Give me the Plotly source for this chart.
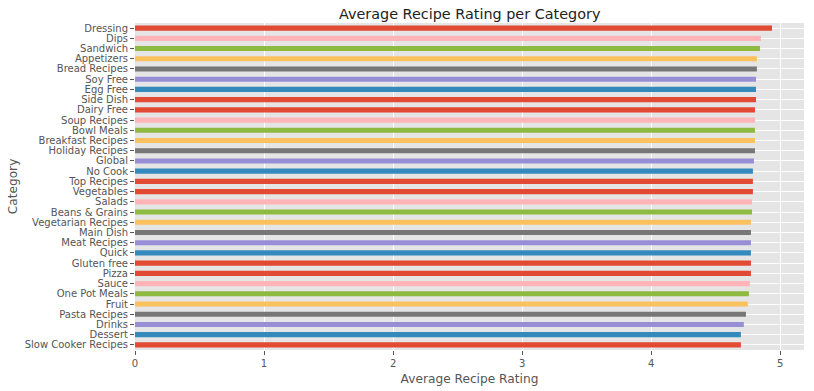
import plotly.graph_objects as go

categories = ["Dressing", "Dips", "Sandwich", "Appetizers", "Bread Recipes", "Soy Free",
              "Egg Free", "Side Dish", "Dairy Free", "Soup Recipes", "Bowl Meals",
              "Breakfast Recipes", "Holiday Recipes", "Global", "No Cook", "Top Recipes",
              "Vegetables", "Salads", "Beans & Grains", "Vegetarian Recipes", "Main Dish",
              "Meat Recipes", "Quick", "Gluten free", "Pizza", "Sauce", "One Pot Meals",
              "Fruit", "Pasta Recipes", "Drinks", "Dessert", "Slow Cooker Recipes"]
ratings = [4.936, 4.850, 4.843, 4.819, 4.819, 4.812,
           4.812, 4.812, 4.804, 4.804, 4.804,
           4.804, 4.804, 4.796, 4.788, 4.788,
           4.788, 4.781, 4.781, 4.773, 4.773,
           4.773, 4.773, 4.773, 4.773, 4.765, 4.757,
           4.749, 4.734, 4.718, 4.695, 4.695]
x_ticks = [0, 1, 2, 3, 4, 5]

# ggplot-style colour cycle, applied from the bottom bar upward
cycle = ["#E24A33", "#348ABD", "#988ED5", "#777777", "#FBC15E", "#8EBA42", "#FFB5B8", "#E24A33"]
n = len(categories)
colors = [cycle[(n - 1 - i) % len(cycle)] for i in range(n)]

fig = go.Figure(go.Bar(
    x=ratings, y=categories, orientation="h",
    marker=dict(color=colors, line=dict(width=0)),
))

font = "DejaVu Sans, Liberation Sans, sans-serif"
fig.update_layout(
    width=814, height=391,
    margin=dict(l=135, r=10, t=23, b=41),
    paper_bgcolor="white", plot_bgcolor="#E5E5E5",
    bargap=0.5,
    showlegend=False,
    font=dict(family=font, size=10, color="#555555"),
    title=dict(text="Average Recipe Rating per Category", x=0.577, xanchor="center",
               y=0.965, yanchor="middle", font=dict(size=14.4, color="#222222")),
)
fig.update_xaxes(
    range=[0, 5.184], tickmode="array", tickvals=x_ticks,
    showgrid=True, gridcolor="white", gridwidth=1, zeroline=False,
    ticks="outside", ticklen=4, tickcolor="#555555",
    title=dict(text="Average Recipe Rating", font=dict(size=12.2, color="#555555"), standoff=6),
    showline=False, automargin=False,
)
fig.update_yaxes(
    categoryorder="array", categoryarray=categories,
    tickmode="array", tickvals=categories, ticktext=categories,
    range=[n - 0.5, -0.5],
    showgrid=True, gridcolor="white", gridwidth=1, zeroline=False,
    ticks="outside", ticklen=4, tickcolor="#555555",
    title=dict(text="Category", font=dict(size=12.2, color="#555555"), standoff=4),
    showline=False, automargin=False,
)

fig.write_html("out.html", config={"displayModeBar": False},
               post_script="document.body.style.margin='0';")
